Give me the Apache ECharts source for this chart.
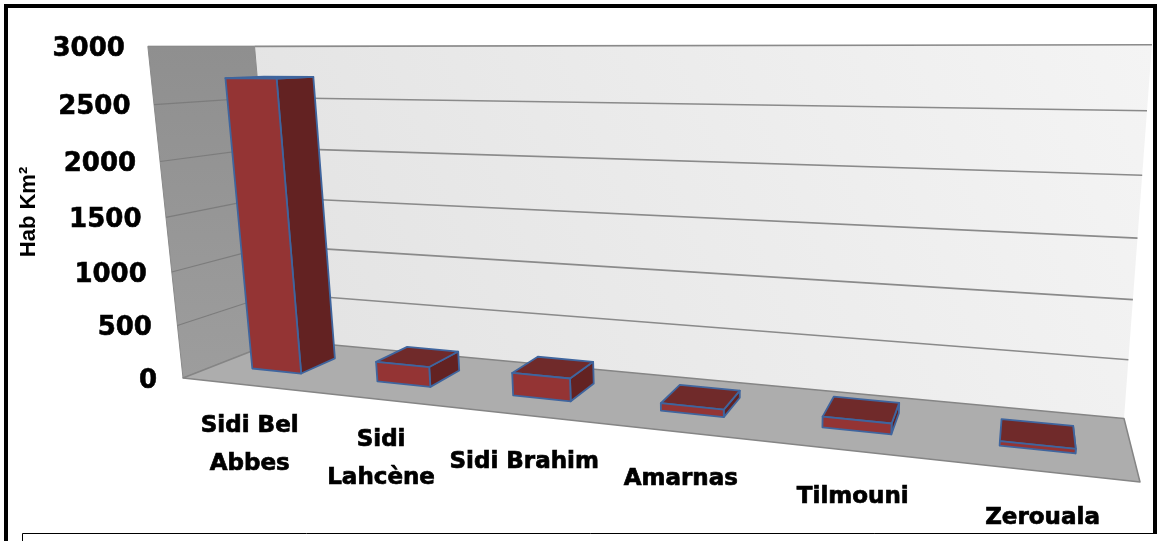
<!DOCTYPE html>
<html>
<head>
<meta charset="utf-8">
<style>html,body{margin:0;padding:0;background:#fff}#c{width:1157px;height:541px}</style>
<script src="https://cdn.jsdelivr.net/npm/echarts@6/dist/echarts.min.js"></script>
</head>
<body>
<div id="c"></div>
<script>
const categories = ['Sidi Bel\nAbbes', 'Sidi\nLahcène', 'Sidi Brahim', 'Amarnas', 'Tilmouni', 'Zerouala'];
const density = [2720, 185, 205, 65, 90, 35];
const yTicks = [0, 500, 1000, 1500, 2000, 2500, 3000];
const yTitle = 'Hab Km²';

// Projection calibration: the corners of the 3D box as seen in the picture
const floorFL = [183, 378], floorFR = [1140, 482], floorBR = [1124, 418.5], floorBL = [280, 340];
const topFL = [150, 45], topBL = [254, 45], topBR = [1152, 47];
const barDepth = [0.32, 0.70], barWidth = 0.40;

function unitSquareHomography(p0, p1, p2, p3) {
  const sx = p0[0] - p1[0] + p2[0] - p3[0], sy = p0[1] - p1[1] + p2[1] - p3[1];
  const dx1 = p1[0] - p2[0], dx2 = p3[0] - p2[0], dy1 = p1[1] - p2[1], dy2 = p3[1] - p2[1];
  const den = dx1 * dy2 - dx2 * dy1;
  const g = (sx * dy2 - dx2 * sy) / den, h = (dx1 * sy - sx * dy1) / den;
  return [p1[0] - p0[0] + g * p1[0], p3[0] - p0[0] + h * p3[0], p0[0],
          p1[1] - p0[1] + g * p1[1], p3[1] - p0[1] + h * p3[1], p0[1], g, h];
}
const H = unitSquareHomography(floorFL, floorFR, floorBR, floorBL);
const floorX = (u, v) => H[0] * u + H[1] * v + H[2];
const floorY = (u, v) => H[3] * u + H[4] * v + H[5];
const floorW = (u, v) => H[6] * u + H[7] * v + 1;

// Height column [a,b,c] of the projective matrix, weighted least squares on the top corners
function solveHeight() {
  const rows = [], rhs = [];
  [[topFL, 0, 0, 0.5], [topBL, 0, 1, 1], [topBR, 1, 1, 1]].forEach(([p, u, v, k]) => {
    rows.push([k, 0, -p[0] * k]); rhs.push((p[0] * floorW(u, v) - floorX(u, v)) * k);
    rows.push([0, k, -p[1] * k]); rhs.push((p[1] * floorW(u, v) - floorY(u, v)) * k);
  });
  const A = [[0,0,0,0],[0,0,0,0],[0,0,0,0]];
  rows.forEach((r, k) => {
    for (let i = 0; i < 3; i++) {
      for (let j = 0; j < 3; j++) A[i][j] += r[i] * r[j];
      A[i][3] += r[i] * rhs[k];
    }
  });
  for (let i = 0; i < 3; i++) {
    for (let k = i + 1; k < 3; k++) {
      const f = A[k][i] / A[i][i];
      for (let j = i; j < 4; j++) A[k][j] -= f * A[i][j];
    }
  }
  const s = [0, 0, 0];
  for (let i = 2; i >= 0; i--) {
    let t = A[i][3];
    for (let j = i + 1; j < 3; j++) t -= A[i][j] * s[j];
    s[i] = t / A[i][i];
  }
  return s;
}
const HT = solveHeight();
function project(u, v, w) {
  const d = floorW(u, v) + w * HT[2];
  return [(floorX(u, v) + w * HT[0]) / d, (floorY(u, v) + w * HT[1]) / d];
}
// pixel position in the hidden cartesian grid -> normalised box position
function gridPos(api, idx, val) {
  const p = api.coord([idx, val]);
  return [p[0] / api.getWidth(), 1 - p[1] / api.getHeight()];
}
const poly = (points, fill, stroke, lw) => ({
  type: 'polygon', shape: { points },
  style: { fill, stroke: stroke || 'none', lineWidth: lw || 0, lineJoin: 'round' }
});
const segment = (a, b, stroke, lw) => ({
  type: 'line', shape: { x1: a[0], y1: a[1], x2: b[0], y2: b[1] },
  style: { stroke, lineWidth: lw }
});

const labelFont = 'bold 23px "DejaVu Sans"';
const tickFont = 'bold 26px "DejaVu Sans"';

function renderWalls(params, api) {
  const t = api.value(0);
  const w = gridPos(api, 0, t)[1];
  const children = [];
  if (params.dataIndex === 0) {
    children.push(poly([project(0,1,0), project(1,1,0), project(1,1,1), project(0,1,1)], {
      type: 'linear', x: 0, y: 1, x2: 1, y2: 0,
      colorStops: [{ offset: 0, color: '#e2e2e2' }, { offset: 1, color: '#f4f4f4' }]
    }));
    children.push(poly([project(0,0,0), project(0,1,0), project(0,1,1), project(0,0,1)], {
      type: 'linear', x: 0, y: 0, x2: 0, y2: 1,
      colorStops: [{ offset: 0, color: '#8f8f8f' }, { offset: 1, color: '#9d9d9d' }]
    }, '#8a8a8a', 1));
    children.push(poly([project(0,0,0), project(1,0,0), project(1,1,0), project(0,1,0)], '#adadad', '#858585', 1.5));
  } else {
    children.push(segment(project(0,0,w), project(0,1,w), t === 3000 ? '#8a8a8a' : '#7c7c7c', 1.2));
    children.push(segment(project(0,1,w), project(1,1,w), '#8a8a8a', 1.6));
  }
  children.push({
    type: 'text',
    style: (function () {
      const p = project(0,0,w);
      return { x: p[0] - 26 + 3 * w, y: p[1] + 3, text: String(t), font: tickFont, fill: '#000',
               stroke: '#000', lineWidth: 0.6, align: 'right', verticalAlign: 'middle' };
    })()
  });
  return { type: 'group', children };
}

function renderBar(params, api) {
  const i = api.value(0), val = api.value(1);
  const [uc, w] = gridPos(api, i, val);
  const half = api.size([1, 0])[0] * barWidth / 2 / api.getWidth();
  const u0 = uc - half, u1 = uc + half, v0 = barDepth[0], v1 = barDepth[1];
  const edge = '#3f659e';
  return {
    type: 'group',
    children: [
      poly([project(u1,v0,0), project(u1,v1,0), project(u1,v1,w), project(u1,v0,w)], '#632222', edge, 1.8),
      poly([project(u0,v0,w), project(u1,v0,w), project(u1,v1,w), project(u0,v1,w)], '#702a2a', edge, 1.8),
      poly([project(u0,v0,0), project(u1,v0,0), project(u1,v0,w), project(u0,v0,w)], '#943434', edge, 1.8)
    ]
  };
}

function renderCategory(params, api) {
  const i = api.value(0);
  const [uc] = gridPos(api, i, 0);
  const p = project(uc, 0, 0);
  const name = categories[i];
  const twoLines = name.indexOf('\n') >= 0;
  return {
    type: 'text',
    style: { x: p[0] + 5, y: p[1] + (twoLines ? 60 : 47), text: name, font: labelFont, lineHeight: 38,
             fill: '#000', stroke: '#000', lineWidth: 0.7, align: 'center', verticalAlign: 'middle' }
  };
}

const chart = echarts.init(document.getElementById('c'), null, { renderer: 'canvas' });
chart.setOption({
  animation: false,
  backgroundColor: '#ffffff',
  grid: { left: 0, right: 0, top: 0, bottom: 0 },
  xAxis: { type: 'category', data: categories, show: false },
  yAxis: { type: 'value', min: 0, max: 3000, interval: 500, show: false },
  series: [
    { type: 'custom', name: 'walls', coordinateSystem: 'cartesian2d', z: 1, silent: true,
      renderItem: renderWalls, encode: { y: 0 }, data: yTicks.map(t => [t]) },
    { type: 'custom', name: 'Hab Km²', coordinateSystem: 'cartesian2d', z: 2, silent: true,
      renderItem: renderBar, encode: { x: 0, y: 1 }, data: density.map((v, i) => [i, v]) },
    { type: 'custom', name: 'labels', coordinateSystem: 'cartesian2d', z: 3, silent: true,
      renderItem: renderCategory, encode: { x: 0 }, data: categories.map((c, i) => [i]) }
  ],
  graphic: [
    { type: 'rect', z: 100, silent: true, shape: { x: 6, y: 6, width: 1149, height: 540 },
      style: { fill: 'none', stroke: '#000', lineWidth: 4 } },
    { type: 'rect', z: 101, silent: true, shape: { x: 22.5, y: 533.5, width: 1140, height: 20 },
      style: { fill: '#fff', stroke: '#000', lineWidth: 1 } },
    { type: 'text', z: 102, silent: true, rotation: Math.PI / 2, x: 29, y: 212,
      style: { text: yTitle, font: 'bold 22px "Liberation Sans"', fill: '#000', align: 'center', verticalAlign: 'middle' } }
  ]
});
</script>
</body>
</html>
